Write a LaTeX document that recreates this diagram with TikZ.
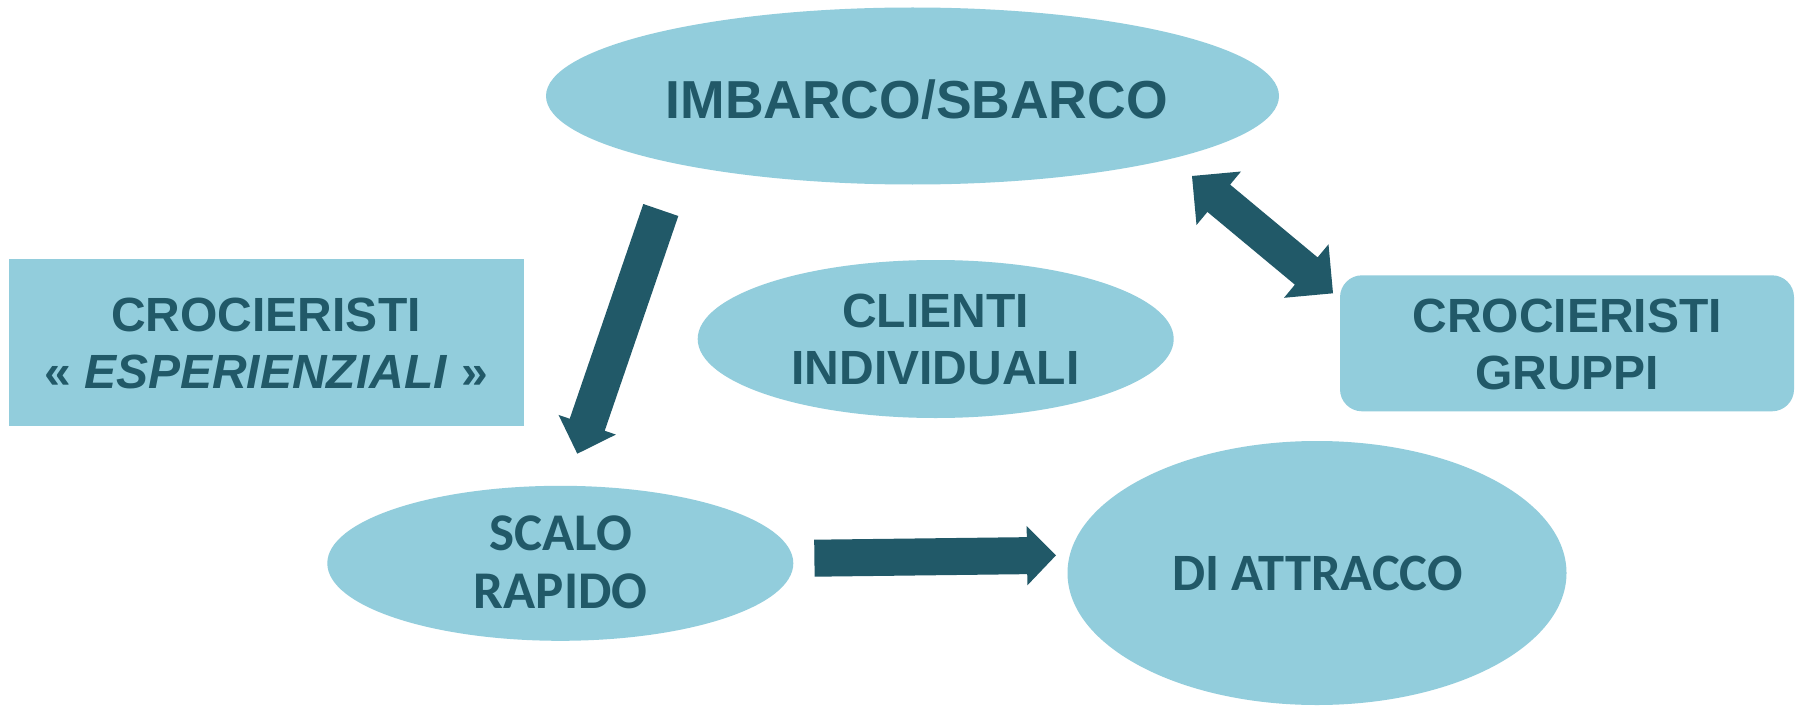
\documentclass[tikz,border=0pt]{standalone}
\usepackage{fontspec}
\setmainfont{Liberation Sans}
\newfontfamily\calibfont{Carlito}
\usetikzlibrary{shapes.geometric,calc}
\definecolor{boxfill}{HTML}{92CDDC}
\definecolor{ink}{HTML}{215968}
\tikzset{
  oval/.style={ellipse, fill=boxfill, draw=none, inner sep=0pt},
  panel/.style={rectangle, fill=boxfill, draw=none, inner sep=0pt},
  lbl/.style={anchor=north, inner sep=0pt, align=center, text=ink},
  arrowfill/.style={fill=ink, draw=none},
}
% #1 tail, #2 tip, #3 shaft half width, #4 head half width, #5 head length
\newcommand{\blockarrow}[5]{%
  \coordinate (tmpC) at ($(#2)!#5!(#1)$);
  \fill[arrowfill] ($(#1)!#3!90:(#2)$) -- ($(tmpC)!#3!90:(#2)$) -- ($(tmpC)!#4!90:(#2)$)
    -- (#2) -- ($(tmpC)!#4!-90:(#2)$) -- ($(tmpC)!#3!-90:(#2)$) -- ($(#1)!#3!-90:(#2)$) -- cycle;
}
\newcommand{\dblarrow}[5]{%
  \coordinate (tmpA) at ($(#1)!#5!(#2)$);
  \coordinate (tmpB) at ($(#2)!#5!(#1)$);
  \fill[arrowfill] (#1) -- ($(tmpA)!#4!90:(#2)$) -- ($(tmpA)!#3!90:(#2)$)
    -- ($(tmpB)!#3!90:(#2)$) -- ($(tmpB)!#4!90:(#2)$) -- (#2)
    -- ($(tmpB)!#4!-90:(#2)$) -- ($(tmpB)!#3!-90:(#2)$)
    -- ($(tmpA)!#3!-90:(#2)$) -- ($(tmpA)!#4!-90:(#2)$) -- cycle;
}
\begin{document}
\begin{tikzpicture}[x=1pt,y=-1pt]
\fill[white] (0,0) rectangle (1801,706);
\useasboundingbox (0,0) rectangle (1801,706);

% shapes
\node[oval, minimum width=733pt, minimum height=177pt] (imb) at (912.5,96) {};
\node[oval, minimum width=476pt, minimum height=158pt] (cli) at (935.7,339) {};
\node[panel, minimum width=515pt, minimum height=167pt] (esp) at (266.5,342.5) {};
\node[panel, rounded corners=22pt, minimum width=454pt, minimum height=136pt] (grp) at (1567,343.3) {};
\node[oval, minimum width=466pt, minimum height=155pt] (sca) at (560.3,563.3) {};
\node[oval, minimum width=499pt, minimum height=264pt] (att) at (1317,573) {};

% texts
\node[lbl, font=\bfseries\fontsize{53.5pt}{60pt}\selectfont] (imbt) at (916.7,80) {IMBARCO/SBARCO};
\node[lbl, font=\bfseries\fontsize{48pt}{56.7pt}\selectfont] (clit) at (935.5,294) {CLIENTI\\INDIVIDUALI};
\node[lbl, font=\bfseries\fontsize{48pt}{56.7pt}\selectfont] (espt) at (266,297.7) {CROCIERISTI\\« \textit{ESPERIENZIALI} »};
\node[lbl, font=\bfseries\fontsize{48pt}{57.4pt}\selectfont] (grpt) at (1567.3,298.3) {CROCIERISTI\\GRUPPI};
\node[lbl, font=\calibfont\bfseries\fontsize{53pt}{57.3pt}\selectfont] (scat) at (560.7,516) {SCALO\\RAPIDO};
\node[lbl, font=\calibfont\bfseries\fontsize{52.5pt}{57pt}\selectfont] (attt) at (1317.5,555.7) {DI ATTRACCO};

% arrows
\coordinate (a1t) at (660.8,210);
\coordinate (a1h) at (577.3,453.7);
\blockarrow{a1t}{a1h}{18.5pt}{30.3pt}{30.6pt}

\coordinate (a3t) at (814.4,558.2);
\coordinate (a3h) at (1056,555.3);
\blockarrow{a3t}{a3h}{18.5pt}{29.7pt}{29pt}

\coordinate (a2a) at (1192,176);
\coordinate (a2b) at (1333,293.3);
\dblarrow{a2a}{a2b}{17.75pt}{34.8pt}{34.8pt}
\end{tikzpicture}
\end{document}
